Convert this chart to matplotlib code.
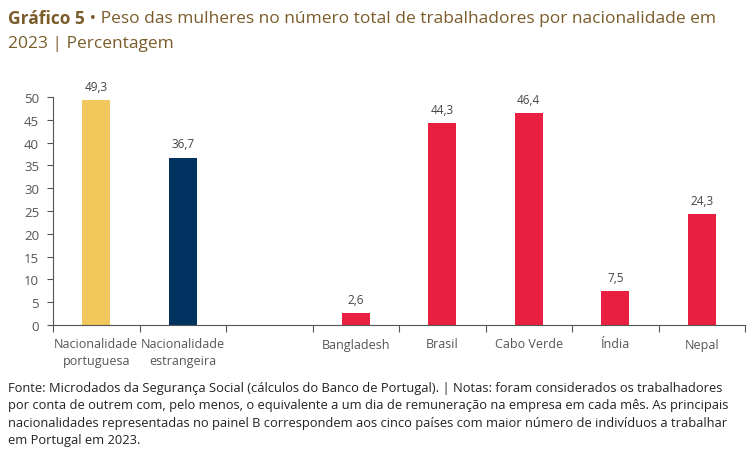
import numpy as np
import matplotlib.pyplot as plt

plt.rcParams['font.family'] = ['Open Sans', 'DejaVu Sans']

categories = ['Nacionalidade\nportuguesa', 'Nacionalidade\nestrangeira', '',
              'Bangladesh', 'Brasil', 'Cabo Verde', 'Índia', 'Nepal']
values = [49.3, 36.7, None, 2.6, 44.3, 46.4, 7.5, 24.3]
colors = ['#F2C75C', '#00325F', None, '#E81F41', '#E81F41', '#E81F41', '#E81F41', '#E81F41']

W, H = 750, 460
fig = plt.figure(figsize=(7.5, 4.6), dpi=100)
ax = fig.add_axes([53 / W, 1 - 326 / H, (745 - 53) / W, (326 - 98) / H])

x = np.arange(len(categories))
for i, v in enumerate(values):
    if v is None:
        continue
    ax.bar(x[i], v, width=0.32, color=colors[i], zorder=2)
    ax.text(x[i], v + 1.6, f'{v:.1f}'.replace('.', ','), ha='center', va='bottom',
            fontsize=8.5, color='#444444')

ax.set_xlim(-0.5, len(categories) - 0.5)
ax.set_ylim(0, 50)
ax.set_yticks(np.arange(0, 51, 5))
ax.set_xticks(x)
ax.set_xticklabels(categories, fontsize=9, color='#555555', linespacing=1.35)
ax.set_xticks(np.arange(-0.5, len(categories), 1), minor=True)
ax.tick_params(axis='x', which='major', length=0, pad=9)
ax.tick_params(axis='x', which='minor', length=5, color='#555555', width=0.8, direction='out')
ax.tick_params(axis='y', length=4, color='#555555', width=0.8, labelsize=9.5,
               labelcolor='#555555', pad=6)
for s in ['top', 'right']:
    ax.spines[s].set_visible(False)
ax.spines['left'].set_color('#555555')
ax.spines['left'].set_linewidth(0.8)
ax.spines['bottom'].set_color('#555555')
ax.spines['bottom'].set_linewidth(0.8)

# title: bold prefix + regular remainder
title_color = '#7A5C2A'
t1 = fig.text(8 / W, 1 - 19 / H, 'Gráfico 5', fontsize=12.5, fontweight='bold',
              color=title_color, va='center', ha='left')
fig.canvas.draw()
bb = t1.get_window_extent()
fig.text(bb.x1 / W, 1 - 19 / H, ' • Peso das mulheres no número total de trabalhadores por nacionalidade em',
         fontsize=12.5, color=title_color, va='center', ha='left')
fig.text(8 / W, 1 - 44 / H, '2023 | Percentagem', fontsize=12.5, color=title_color,
         va='center', ha='left')

note = ('Fonte: Microdados da Segurança Social (cálculos do Banco de Portugal). | Notas: foram considerados os trabalhadores\n'
        'por conta de outrem com, pelo menos, o equivalente a um dia de remuneração na empresa em cada mês. As principais\n'
        'nacionalidades representadas no painel B correspondem aos cinco países com maior número de indivíduos a trabalhar\n'
        'em Portugal em 2023.')
fig.text(8 / W, 1 - 382 / H, note, fontsize=9.3, color='#222222', va='top', ha='left',
         linespacing=1.45)

fig.savefig('out.png', dpi=100)
